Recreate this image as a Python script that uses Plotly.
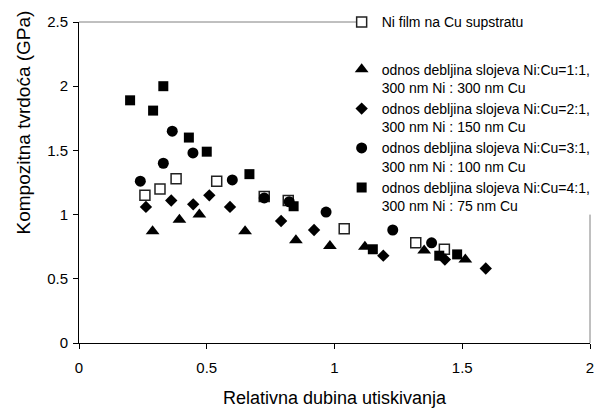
import plotly.graph_objects as go

# Ni film na Cu supstratu (open squares)
x_film = [0.258, 0.317, 0.38, 0.539, 0.725, 0.819, 1.038, 1.318, 1.43]
y_film = [1.15, 1.20, 1.28, 1.26, 1.14, 1.11, 0.89, 0.78, 0.73]
# Ni:Cu = 1:1 (triangles)
x_11 = [0.288, 0.393, 0.471, 0.65, 0.849, 0.982, 1.119, 1.351, 1.512]
y_11 = [0.87, 0.96, 1.00, 0.87, 0.80, 0.755, 0.75, 0.72, 0.65]
# Ni:Cu = 2:1 (diamonds)
x_21 = [0.262, 0.361, 0.447, 0.51, 0.591, 0.791, 0.92, 1.191, 1.432, 1.592]
y_21 = [1.06, 1.11, 1.08, 1.15, 1.06, 0.95, 0.88, 0.68, 0.65, 0.58]
# Ni:Cu = 3:1 (circles)
x_31 = [0.24, 0.33, 0.365, 0.446, 0.60, 0.725, 0.823, 0.967, 1.228, 1.38]
y_31 = [1.26, 1.40, 1.65, 1.48, 1.27, 1.13, 1.10, 1.02, 0.88, 0.78]
# Ni:Cu = 4:1 (filled squares)
x_41 = [0.20, 0.29, 0.33, 0.43, 0.50, 0.667, 0.84, 1.15, 1.41, 1.48]
y_41 = [1.89, 1.81, 2.00, 1.60, 1.49, 1.315, 1.065, 0.73, 0.68, 0.69]

names = [
    "Ni film na Cu supstratu",
    "odnos debljina slojeva Ni:Cu=1:1,<br>300 nm Ni : 300 nm Cu",
    "odnos debljina slojeva Ni:Cu=2:1,<br>300 nm Ni : 150 nm Cu",
    "odnos debljina slojeva Ni:Cu=3:1,<br>300 nm Ni : 100 nm Cu",
    "odnos debljina slojeva Ni:Cu=4:1,<br>300 nm Ni : 75 nm Cu",
]

x_ticks = [0, 0.5, 1, 1.5, 2]
x_tick_labels = ["0", "0.5", "1", "1.5", "2"]
y_ticks = [0, 0.5, 1, 1.5, 2, 2.5]
y_tick_labels = ["0", "0.5", "1", "1.5", "2", "2.5"]

FONT = "Liberation Sans, Arial, sans-serif"

fig = go.Figure()
fig.add_trace(go.Scatter(x=x_film, y=y_film, mode="markers", name=names[0], legendgroup="a",
                         marker=dict(symbol="square-open", size=10, color="#222222", line=dict(width=1.5, color="#222222"))))
fig.add_trace(go.Scatter(x=x_11, y=y_11, mode="markers", name=names[1], legendgroup="b",
                         marker=dict(symbol="triangle-up", size=12, color="black", line=dict(width=0))))
fig.add_trace(go.Scatter(x=x_21, y=y_21, mode="markers", name=names[2], legendgroup="b",
                         marker=dict(symbol="diamond", size=9.5, color="black", line=dict(width=0))))
fig.add_trace(go.Scatter(x=x_31, y=y_31, mode="markers", name=names[3], legendgroup="b",
                         marker=dict(symbol="circle", size=11, color="black", line=dict(width=0))))
fig.add_trace(go.Scatter(x=x_41, y=y_41, mode="markers", name=names[4], legendgroup="b",
                         marker=dict(symbol="square", size=10, color="black", line=dict(width=0))))

fig.update_layout(
    width=603, height=409,
    margin=dict(l=79, r=13, t=22, b=66, autoexpand=False),
    paper_bgcolor="white", plot_bgcolor="white",
    font=dict(family=FONT, size=15, color="black"),
    showlegend=True,
    legend=dict(x=0.514, y=0.9844, xref="paper", yref="container", xanchor="left", yanchor="top",
                bgcolor="rgba(0,0,0,0)",
                font=dict(size=14, family=FONT, color="black"), valign="top",
                tracegroupgap=26, traceorder="grouped"),
    xaxis=dict(range=[0, 2], tickvals=x_ticks, ticktext=x_tick_labels, showgrid=False, zeroline=False,
               showline=True, linecolor="black", linewidth=1, ticks="outside", ticklen=5,
               tickcolor="black", tickfont=dict(size=15), ticklabeloverflow="allow",
               ticklabelstandoff=6,
               title=dict(text="Relativna dubina utiskivanja", font=dict(size=18), standoff=16)),
    yaxis=dict(range=[0, 2.5], tickvals=y_ticks, ticktext=y_tick_labels, showgrid=False, zeroline=False,
               showline=True, linecolor="black", linewidth=1, ticks="outside", ticklen=5,
               tickcolor="black", tickfont=dict(size=15), ticklabelstandoff=2),
    annotations=[dict(text="Kompozitna tvrdoća (GPa)", textangle=-90, xref="paper", yref="paper",
                      x=-0.109, y=0.688, xanchor="center", yanchor="middle", showarrow=False,
                      font=dict(size=19, family=FONT, color="black"))],
    shapes=[
        dict(type="line", xref="paper", yref="paper", x0=0, x1=0.544, y0=1, y1=1,
             line=dict(color="#808080", width=1)),
        dict(type="line", xref="paper", yref="paper", x0=1, x1=1, y0=0, y1=0.4,
             line=dict(color="#808080", width=1)),
    ],
)

# avoid the legend scrollbar: allow a taller legend if supported, else tighten it
try:
    fig.update_layout(legend_maxheight=380)
except (ValueError, AttributeError):
    fig.update_layout(legend_tracegroupgap=19, legend_y=0.9844)

fig.write_html(
    "out.html",
    config={"displayModeBar": False},
    post_script="document.body.style.margin='0px';document.body.style.overflow='hidden';"
                "document.documentElement.style.overflow='hidden';",
)
